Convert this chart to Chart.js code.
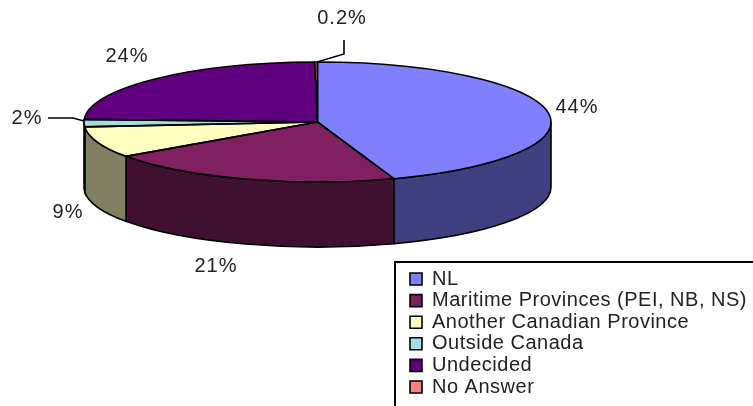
<!DOCTYPE html>
<html>
<head>
<meta charset="utf-8">
<title>Pie</title>
<script src="https://cdn.jsdelivr.net/npm/chart.js@4"></script>
<style>
    html, body { margin: 0; padding: 0; background: #fff; overflow: hidden; }
    canvas { display: block; }
</style>
</head>
<body>
<canvas id="myChart" width="753" height="406"></canvas>
<script>
const categories = ['NL', 'Maritime Provinces (PEI, NB, NS)', 'Another Canadian Province', 'Outside Canada', 'Undecided', 'No Answer'];
const shares = [44.7, 20.6, 8.4, 2, 24.1, 0.2];
const shareLabels = ['44%', '21%', '9%', '2%', '24%', '0.2%'];

const topColors = ['#8080ff', '#802060', '#ffffc0', '#a0e0e0', '#600080', '#ff8080'];
const wallColors = ['#404080', '#401030', '#808060', '#507070', '#300040', '#804040'];

// where the percentage texts sit, same order as shareLabels
const labelSpots = [[577, 107], [216, 266], [68, 212], [27, 118], [127, 56], [342, 18]];
// leader lines for the two thin slices
const leaders = [
    [[48, 118], [73, 118], [84, 121]],
    [[317, 62], [344, 54], [344, 40]],
];

const RADIUS = 233.5;
const FLATTEN = 60 / 233.5;
const DEPTH = 65;
const LINE = 1.6;

/**
 * Flattens the library's arcs into an ellipse and adds the side wall.
 */
const tiltPlugin = {
    id: 'tilt',
    afterLayout: (chart) => {
        // move the legend into its frame
        const legend = chart.legend;
        legend.left = 408.4;
        legend.top = 267.4;
        legend.right = 753;
        legend.bottom = 420;
    },
    beforeDraw: (chart) => {
        chart.ctx.letterSpacing = '0.5px';
    },
    beforeDatasetsDraw: (chart) => {
        const ctx = chart.ctx;
        const arcs = chart.getDatasetMeta(0).data;
        const { x, y, outerRadius } = arcs[0];
        const ry = outerRadius * FLATTEN;

        ctx.save();
        ctx.strokeStyle = '#000';
        ctx.lineWidth = LINE;
        arcs.forEach((arc, i) => {
            const from = Math.max(arc.startAngle, 0);
            const to = Math.min(arc.endAngle, Math.PI);
            if (to <= from) {
                return;
            }
            ctx.beginPath();
            ctx.ellipse(x, y, outerRadius, ry, 0, from, to);
            ctx.lineTo(x + outerRadius * Math.cos(to), y + ry * Math.sin(to) + DEPTH);
            ctx.ellipse(x, y + DEPTH, outerRadius, ry, 0, to, from, true);
            ctx.closePath();
            ctx.fillStyle = wallColors[i];
            ctx.fill();
            ctx.stroke();
        });
        ctx.restore();

        ctx.save();
        ctx.translate(x, y);
        ctx.scale(1, FLATTEN);
        ctx.translate(-x, -y);
    },
    afterDatasetsDraw: (chart) => {
        const ctx = chart.ctx;
        ctx.restore();

        const arcs = chart.getDatasetMeta(0).data;
        const { x, y, outerRadius } = arcs[0];
        const ry = outerRadius * FLATTEN;

        ctx.save();
        ctx.strokeStyle = '#000';
        ctx.lineWidth = LINE;
        arcs.forEach((arc) => {
            ctx.beginPath();
            ctx.moveTo(x, y);
            ctx.ellipse(x, y, outerRadius, ry, 0, arc.startAngle, arc.endAngle);
            ctx.closePath();
            ctx.stroke();
        });

        leaders.forEach((points) => {
            ctx.beginPath();
            points.forEach((p, i) => (i === 0 ? ctx.moveTo(p[0], p[1]) : ctx.lineTo(p[0], p[1])));
            ctx.stroke();
        });

        // legend frame runs off the right and bottom of the picture
        ctx.lineWidth = 2;
        ctx.strokeRect(395, 262, 400, 200);

        ctx.fillStyle = '#222';
        ctx.font = '20px "Liberation Sans", Arial, sans-serif';
        ctx.letterSpacing = '1px';
        ctx.textAlign = 'center';
        ctx.textBaseline = 'middle';
        shareLabels.forEach((text, i) => {
            ctx.fillText(text, labelSpots[i][0], labelSpots[i][1]);
        });
        ctx.restore();
    },
};

const createChart = () => {
    const config = {
        type: 'pie',
        data: {
            labels: categories,
            datasets: [
                {
                    data: shares,
                    backgroundColor: topColors,
                    borderWidth: 0,
                    clip: false,
                },
            ],
        },
        options: {
            responsive: false,
            animation: false,
            radius: RADIUS,
            layout: {
                padding: { left: 0, right: 118, top: 0, bottom: 162 },
            },
            plugins: {
                tooltip: { enabled: false },
                legend: {
                    position: 'chartArea',
                    align: 'start',
                    labels: {
                        boxWidth: 12,
                        boxHeight: 12,
                        padding: 1.6,
                        color: '#222',
                        font: { family: '"Liberation Sans", Arial, sans-serif', size: 20, lineHeight: 1 },
                        generateLabels: (chart) =>
                            Chart.controllers.pie.overrides.plugins.legend.labels.generateLabels(chart).map((item) => ({
                                ...item,
                                strokeStyle: '#000',
                                lineWidth: 1.6,
                            })),
                    },
                },
            },
        },
        plugins: [tiltPlugin],
    };

    return new Chart(document.getElementById('myChart'), config);
};

createChart();
</script>
</body>
</html>
